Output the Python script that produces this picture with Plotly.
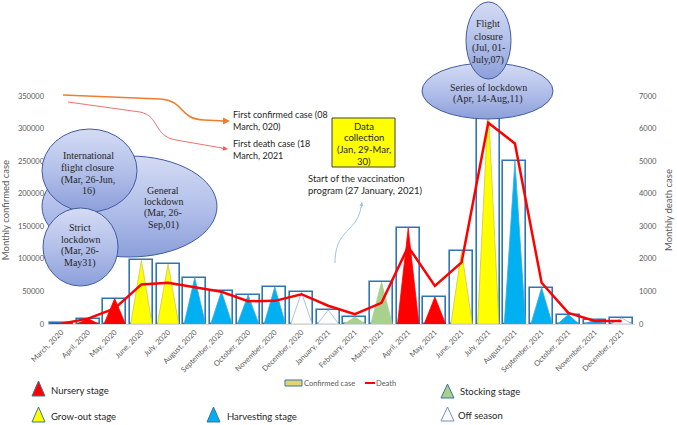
import base64
import plotly.graph_objects as go

# ---------------- data ----------------
months = ["March, 2020", "April, 2020", "May, 2020", "June, 2020", "July, 2020", "August, 2020",
          "September, 2020", "October, 2020", "November, 2020", "December, 2020",
          "January, 2021", "February, 2021", "March, 2021", "April, 2021", "May, 2021",
          "June, 2021", "July, 2021", "August, 2021", "September, 2021", "October, 2021",
          "November, 2021", "December, 2021"]
confirmed = [800, 8300, 39000, 97700, 92000, 71200, 50200, 44500, 56800, 48600, 21500,
             10700, 64400, 147200, 41400, 112000, 335000, 250000, 55800, 14400, 6700, 9200]
deaths = [5, 165, 475, 1215, 1265, 1120, 990, 700, 710, 915, 560, 300, 650, 2375, 1170,
          1890, 6180, 5540, 1265, 340, 95, 95]
stages = ["Nursery", "Nursery", "Nursery", "Grow-out", "Grow-out", "Harvesting", "Harvesting",
          "Harvesting", "Harvesting", "Off season", "Off season", "Stocking", "Stocking",
          "Nursery", "Nursery", "Grow-out", "Grow-out", "Harvesting", "Harvesting",
          "Harvesting", "Harvesting", "Off season"]
stage_names = ["Nursery", "Grow-out", "Harvesting", "Stocking", "Off season"]
left_ticks = [0, 50000, 100000, 150000, 200000, 250000, 300000, 350000]
right_ticks = [0, 1000, 2000, 3000, 4000, 5000, 6000, 7000]

# ---------------- styles ----------------
stage_fill = {"Nursery": "#FF0000", "Grow-out": "#FFFF00", "Harvesting": "#00B0F0",
              "Stocking": "#A9D18E", "Off season": "#FFFFFF"}
stage_line = {"Nursery": "#FF0000", "Grow-out": "#C9C94A", "Harvesting": "#3FA9D8",
              "Stocking": "#A9D18E", "Off season": "#9AB3D6"}
SANS = "Lato"
SERIF = "Liberation Serif"
GREY = "#595959"
TXT = "#262626"
ELL_LINE = "#3F5CA0"

W, H = 677, 425
L, R, T, B = 48, 42, 96, 101
PW, PH = W - L - R, H - T - B


def fx(x):
    return (x - L) / PW


def fy(y):
    return (H - B - y) / PH


fig = go.Figure()
xi = list(range(len(months)))

# bars (outline only)
fig.add_trace(go.Bar(x=xi, y=confirmed, width=0.86, name="Confirmed case",
                     marker=dict(color="rgba(0,0,0,0)", line=dict(color="#2E75B6", width=1.6))))

# stage triangles
half = 0.4
for st in stage_names:
    xs, ys = [], []
    for i, (v, s) in enumerate(zip(confirmed, stages)):
        if s == st:
            xs += [i - half, i, i + half, i - half, None]
            ys += [0, v, 0, 0, None]
    fig.add_trace(go.Scatter(x=xs, y=ys, mode="lines", fill="toself",
                             fillcolor=stage_fill[st],
                             line=dict(color=stage_line[st], width=0.8), name=st,
                             hoverinfo="skip"))

# death line
fig.add_trace(go.Scatter(x=xi, y=deaths, yaxis="y2", mode="lines", name="Death",
                         line=dict(color="#FF0000", width=2.5)))

shapes = []
annotations = []


def text(x, y, t, size=10, font=SANS, color=TXT, xanchor="center", align="center"):
    annotations.append(dict(x=fx(x), y=fy(y), xref="paper", yref="paper", text=t,
                            showarrow=False, xanchor=xanchor, yanchor="middle", align=align,
                            borderpad=0, font=dict(family=font, size=size, color=color)))


def lines(x, ys, texts, size=10, font=SERIF):
    for yy, tt in zip(ys, texts):
        text(x, yy, tt, size, font)


def to_paper_path(d):
    out = []
    for tok in d.split():
        if tok.isalpha():
            out.append(tok)
        else:
            xv, yv = tok.split(",")
            out.append(f"{fx(float(xv)):.5f},{fy(float(yv)):.5f}")
    return " ".join(out)


def path(d, color, width):
    shapes.append(dict(type="path", xref="paper", yref="paper", path=to_paper_path(d),
                       line=dict(color=color, width=width), layer="above"))


def arrowhead(x, y, ax, ay, color, width=1.2, size=1.0):
    annotations.append(dict(x=fx(x), y=fy(y), xref="paper", yref="paper", text="",
                            showarrow=True, ax=ax, ay=ay, arrowhead=2, arrowsize=size,
                            arrowwidth=width, arrowcolor=color, standoff=0))


# ---- gradient-filled ellipses (decoration drawn as one SVG overlay) ----
ellipses = [(42, 156, 217, 257), (42, 129, 137, 212), (43, 208, 118, 286),
            (422, 63, 553, 119), (466, 2, 511, 79)]
svg = ["<svg xmlns='http://www.w3.org/2000/svg' width='677' height='425' viewBox='0 0 677 425'>",
       "<defs><linearGradient id='g' x1='0' y1='0' x2='0' y2='1'>"
       "<stop offset='0' stop-color='#D4DBF3'/><stop offset='0.5' stop-color='#B3C0EA'/>"
       "<stop offset='1' stop-color='#8C9FDA'/></linearGradient></defs>"]
for (x0, y0, x1, y1) in ellipses:
    svg.append(f"<ellipse cx='{(x0 + x1) / 2}' cy='{(y0 + y1) / 2}' rx='{(x1 - x0) / 2}' "
               f"ry='{(y1 - y0) / 2}' fill='url(#g)' stroke='{ELL_LINE}' stroke-width='1'/>")
svg.append("</svg>")
svg_uri = "data:image/svg+xml;base64," + base64.b64encode("".join(svg).encode()).decode()
images = [dict(source=svg_uri, xref="paper", yref="paper", x=fx(0), y=fy(0),
               sizex=W / PW, sizey=H / PH, xanchor="left", yanchor="top",
               sizing="stretch", layer="above")]

lines(163, [190, 201.5, 213, 225], ["General", "lockdown", "(Mar, 26-", "Sep,01)"])
lines(88, [155, 167, 179.5, 191], ["International", "flight closure", "(Mar, 26-Jun,", "16)"])
lines(80, [227, 239, 251, 263], ["Strict", "lockdown", "(Mar, 26-", "May31)"])
lines(488, [87, 99], ["Series of lockdown", "(Apr, 14-Aug,11)"])
lines(488, [24, 36, 48, 60], ["Flight", "closure", "(Jul, 01-", "July,07)"])

# yellow data-collection box
shapes.append(dict(type="rect", xref="paper", yref="paper", x0=fx(332), x1=fx(395),
                   y0=fy(167), y1=fy(118), fillcolor="#FFFF00",
                   line=dict(color="#404040", width=1), layer="above"))
lines(363.5, [126, 137.5, 149, 161], ["Data", "collection", "(Jan, 29-Mar,", "30)"], 9.5, SANS)

# arrows
path("M 63,95 L 160,99 C 186,101 178,119 204,120 L 224,121", "#ED7D31", 1.6)
arrowhead(230, 121, -8, 0, "#ED7D31", 1.4)
path("M 68,102 L 140,112 C 160,116 153,136 176,140 L 222,148", "#F06060", 0.9)
arrowhead(228, 149, -8, -1, "#F06060", 1.0)
path("M 335,263 C 335,240 345,234 350,228 C 357,221 360,214 361,207", "#9DC3E6", 1.0)
arrowhead(362, 202, -1, 7, "#9DC3E6", 1.0, 0.8)

text(232, 120.5, "First confirmed case (08<br>March, 020)", 9, SANS, xanchor="left", align="left")
text(232, 149.5, "First death case (18<br>March, 2021", 9, SANS, xanchor="left", align="left")
text(307, 184.5, "Start of the vaccination<br>program (27 January, 2021)", 9.5, SANS,
     xanchor="left", align="left")

# small series legend
shapes.append(dict(type="rect", xref="paper", yref="paper", x0=fx(285), x1=fx(302),
                   y0=fy(386), y1=fy(380), fillcolor="#E3D46E",
                   line=dict(color="#2E75B6", width=1), layer="above"))
text(303, 383, "Confirmed case", 7.5, SANS, GREY, xanchor="left", align="left")
shapes.append(dict(type="line", xref="paper", yref="paper", x0=fx(365), x1=fx(375),
                   y0=fy(383), y1=fy(383), line=dict(color="#FF0000", width=2), layer="above"))
text(375, 383, "Death", 7.5, SANS, GREY, xanchor="left", align="left")


# stage legend
def tri(x0, y0, x1, y1, fill, line):
    d = f"M {(x0 + x1) / 2},{y0} L {x1},{y1} L {x0},{y1} Z"
    shapes.append(dict(type="path", xref="paper", yref="paper", path=to_paper_path(d),
                       fillcolor=fill, line=dict(color=line, width=1), layer="above"))


legend_pos = {"Nursery": (32, 381, 45, 396, 50, 390, "Nursery stage"),
              "Grow-out": (32, 407, 45, 422, 50, 416, "Grow-out stage"),
              "Harvesting": (207, 407, 220, 422, 226, 416, "Harvesting stage"),
              "Stocking": (441, 384, 454, 398, 459, 391, "Stocking stage"),
              "Off season": (441, 407, 454, 421, 457, 415, "Off season")}
for st in stage_names:
    x0, y0, x1, y1, tx, ty, lab = legend_pos[st]
    tri(x0, y0, x1, y1, stage_fill[st], "#41719C" if st != "Off season" else "#6F8FC0")
    text(tx, ty, lab, 9.5, SANS, TXT, xanchor="left", align="left")

fig.update_layout(
    width=W, height=H,
    margin=dict(l=L, r=R, t=T, b=B, autoexpand=False),
    paper_bgcolor="white", plot_bgcolor="white",
    showlegend=False,
    bargap=0,
    xaxis=dict(range=[-0.5, len(months) - 0.5], tickvals=xi, ticktext=months, tickangle=-45,
               tickfont=dict(family=SANS, size=7.5, color=GREY), showgrid=False, automargin=False,
               zeroline=False, showline=True, linecolor="#D9D9D9", ticks=""),
    yaxis=dict(range=[0, 350000], tickvals=left_ticks, tickformat="d", automargin=False,
               tickfont=dict(family=SANS, size=7.5, color=GREY), showgrid=False,
               zeroline=False, showline=False, ticklabelstandoff=3,
               title=dict(text="Monthly confirmed case", font=dict(family=SANS, size=9.5, color=GREY),
                          standoff=6)),
    yaxis2=dict(range=[0, 7000], tickvals=right_ticks, tickformat="d", overlaying="y", side="right",
                tickfont=dict(family=SANS, size=7.5, color=GREY), showgrid=False, automargin=False,
                zeroline=False, showline=False, ticklabelstandoff=3,
                title=dict(text="Monthly death case", font=dict(family=SANS, size=9.5, color=GREY),
                           standoff=9)),
    shapes=shapes,
    annotations=annotations,
    images=images,
)

fig.write_html("out.html", config={"displayModeBar": False},
               post_script="document.body.style.margin='0';document.body.style.padding='0';")
